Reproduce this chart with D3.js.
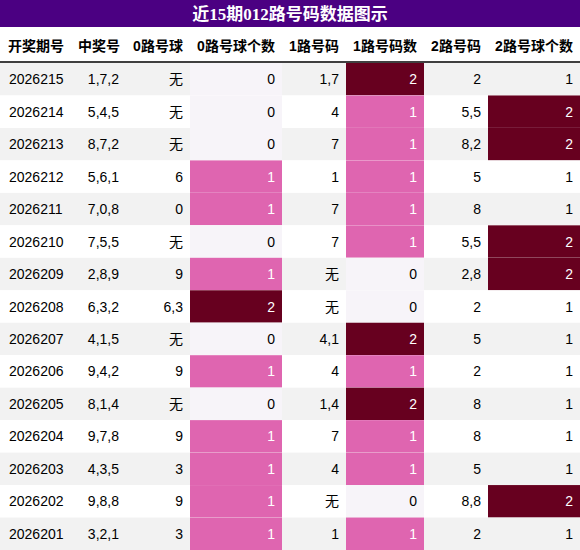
<!DOCTYPE html><html><head><meta charset="utf-8"><script src="https://cdn.jsdelivr.net/npm/d3@7"></script>
<style>body{margin:0;background:#fff}</style></head><body><svg id="c" width="580" height="550"></svg>
<script>
const title="近15期012路号码数据图示";
const headers=["开奖期号","中奖号","0路号球","0路号球个数","1路号码","1路号码数","2路号码","2路号球个数"];
const periods=["2026215","2026214","2026213","2026212","2026211","2026210","2026209","2026208","2026207","2026206","2026205","2026204","2026203","2026202","2026201"];
const draws=["1,7,2","5,4,5","8,7,2","5,6,1","7,0,8","7,5,5","2,8,9","6,3,2","4,1,5","9,4,2","8,1,4","9,7,8","4,3,5","9,8,8","3,2,1"];
const road0=["无","无","无","6","0","无","9","6,3","无","9","无","9","3","9","3"];
const count0=[0,0,0,1,1,0,1,2,0,1,0,1,1,1,1];
const road1=["1,7","4","7","1","7","7","无","无","4,1","4","1,4","7","4","无","1"];
const count1=[2,1,1,1,1,1,0,0,2,1,2,1,1,0,1];
const road2=["2","5,5","8,2","5","8","5,5","2,8","2","5","2","8","8","5","8,8","2"];
const count2=[1,2,2,1,1,2,2,1,1,1,1,1,1,2,1];
const svg=d3.select("#c");
const bounds=[0,72,126,190,282,346,424,488,580];
const w=i=>bounds[i+1]-bounds[i];
const y=d3.scaleBand().domain(d3.range(15)).range([63,550]);
const pal=["#f7f4f9","#df65b0","#67001f"];
const colScales={3:count0,5:count1,7:count2};
const scaleFor={};
Object.entries(colScales).forEach(([k,arr])=>{
  const [mn,mx]=d3.extent(arr);
  const dom=mx-mn===1?[mn,mx]:[mn,(mn+mx)/2,mx];
  const rng=mx-mn===1?[pal[0],pal[2]]:pal;
  scaleFor[k]=d3.scaleOrdinal().domain(dom).range(rng);
  scaleFor[k].min=mn;
});
const font="Liberation Sans, Arial, sans-serif";
svg.append("rect").attr("x",0).attr("y",0).attr("width",580).attr("height",27).attr("fill","#4b0082");
svg.append("text").attr("x",290).attr("y",20).attr("text-anchor","middle").attr("fill","#fff").attr("font-size",17).attr("font-weight","bold").attr("font-family","Liberation Serif, Noto Sans CJK SC, serif").text(title);
headers.forEach((h,i)=>svg.append("text").attr("x",bounds[i]+w(i)/2).attr("y",51).attr("text-anchor","middle").attr("font-size",14).attr("font-weight","bold").attr("font-family",font+",Noto Sans CJK SC").text(h));
svg.append("line").attr("x1",0).attr("x2",580).attr("y1",62).attr("y2",62).attr("stroke","#000").attr("stroke-width",1.5);
const rows=periods.map((p,r)=>[p,draws[r],road0[r],count0[r],road1[r],count1[r],road2[r],count2[r]]);
rows.forEach((row,r)=>{
  const g=svg.append("g");
  g.append("rect").attr("x",0).attr("y",y(r)).attr("width",580).attr("height",y.bandwidth()).attr("fill",r%2?"#fff":"#f2f2f2");
  row.forEach((v,i)=>{
    const s=scaleFor[i];
    if(s && v>s.min) g.append("rect").attr("x",bounds[i]).attr("y",y(r)).attr("width",w(i)).attr("height",y.bandwidth()).attr("fill",s(v));
    else if(s && i===3 || s && i===5) g.append("rect").attr("x",bounds[i]).attr("y",y(r)).attr("width",w(i)).attr("height",y.bandwidth()).attr("fill",pal[0]);
    const t=g.append("text").attr("y",y(r)+y.bandwidth()/2+5).attr("font-size",14).attr("font-family",font+",Noto Sans CJK SC")
      .attr("fill",s&&v>s.min?"#fff":"#000").text(v);
    if(i===0) t.attr("x",9); else t.attr("x",bounds[i+1]-7).attr("text-anchor","end");
  });
});
</script></body></html>
